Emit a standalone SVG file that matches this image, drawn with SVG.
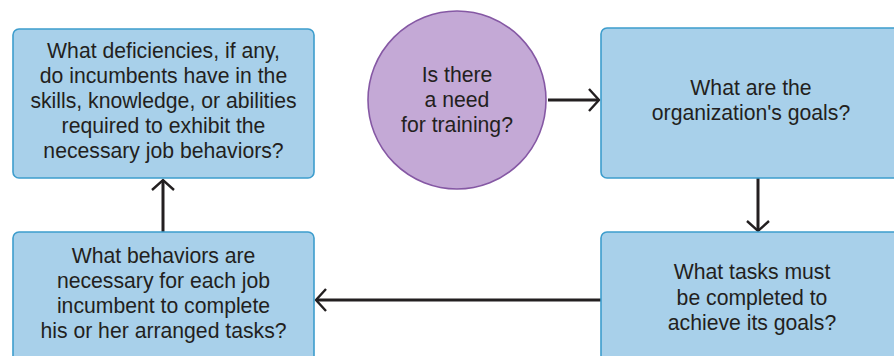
<svg xmlns="http://www.w3.org/2000/svg" width="894" height="356" viewBox="0 0 894 356">
<style>
.box{fill:#a8d0ea;stroke:#3d9dcd;stroke-width:1.6}
.circ{fill:#c4a9d6;stroke:#8558a4;stroke-width:1.6}
text{font-family:"Liberation Sans",Arial,sans-serif;font-size:21.2px;fill:#231f20;text-anchor:middle}
.conn{stroke:#231f20;stroke-width:3;fill:none}
</style>
<defs>
<marker id="arr" markerUnits="userSpaceOnUse" markerWidth="24" markerHeight="28" viewBox="-14 -14 18 28" refX="0" refY="0" orient="auto">
<path d="M-10,-11 L0,0 L-10,11" fill="none" stroke="#231f20" stroke-width="2.4"/>
</marker>
</defs>
<rect width="894" height="356" fill="#ffffff"/>
<g id="connectors">
<line class="conn" x1="548" y1="100" x2="599" y2="100" marker-end="url(#arr)"/>
<line class="conn" x1="758" y1="178" x2="758" y2="231" marker-end="url(#arr)"/>
<line class="conn" x1="601" y1="300" x2="316" y2="300" marker-end="url(#arr)"/>
<line class="conn" x1="163" y1="232" x2="163" y2="180" marker-end="url(#arr)"/>
</g>
<g id="deficiencies">
<rect class="box" x="13" y="29" width="301" height="149" rx="6"/>
<text x="163.5" y="58">What deficiencies, if any,</text>
<text x="163.5" y="83">do incumbents have in the</text>
<text x="163.5" y="108">skills, knowledge, or abilities</text>
<text x="163.5" y="133">required to exhibit the</text>
<text x="163.5" y="158">necessary job behaviors?</text>
</g>
<g id="need">
<circle class="circ" cx="457" cy="100" r="89"/>
<text x="457" y="82">Is there</text>
<text x="457" y="107">a need</text>
<text x="457" y="132">for training?</text>
</g>
<g id="goals">
<rect class="box" x="601" y="28" width="310" height="150" rx="6"/>
<text x="751" y="95">What are the</text>
<text x="751" y="120">organization's goals?</text>
</g>
<g id="tasks">
<rect class="box" x="601" y="232" width="310" height="150" rx="6"/>
<text x="752" y="279">What tasks must</text>
<text x="752" y="305">be completed to</text>
<text x="752" y="330">achieve its goals?</text>
</g>
<g id="behaviors">
<rect class="box" x="13" y="232" width="301" height="150" rx="6"/>
<text x="163.5" y="263">What behaviors are</text>
<text x="163.5" y="288">necessary for each job</text>
<text x="163.5" y="313">incumbent to complete</text>
<text x="163.5" y="338">his or her arranged tasks?</text>
</g>
</svg>
